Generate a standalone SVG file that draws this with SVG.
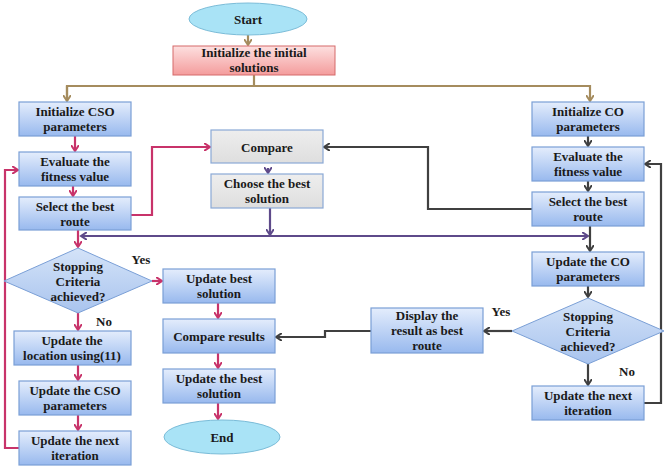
<svg xmlns="http://www.w3.org/2000/svg" width="669" height="470" viewBox="0 0 669 470">
<style>
text{font-family:"Liberation Serif","Times New Roman",serif;font-weight:bold;font-size:13px;fill:#1a1a1a;text-anchor:middle}
.b{fill:url(#gb);stroke:#7a9fd6;stroke-width:1.2}
.g{fill:url(#gg);stroke:#8aa9d6;stroke-width:1.2}
.c{fill:none;stroke-width:2.2}
.pk{stroke:#c8336a}.br{stroke:#a58c5e}.pu{stroke:#5e4a8a}.dk{stroke:#404040}
</style>
<defs>
<linearGradient id="gb" x1="0" y1="0" x2="0" y2="1"><stop offset="0" stop-color="#e4edfc"/><stop offset="1" stop-color="#98b9ee"/></linearGradient>
<linearGradient id="gg" x1="0" y1="0" x2="0" y2="1"><stop offset="0" stop-color="#eeeeee"/><stop offset="1" stop-color="#dedede"/></linearGradient>
<linearGradient id="gr" x1="0" y1="0" x2="0" y2="1"><stop offset="0" stop-color="#fde0e0"/><stop offset="1" stop-color="#f49c9c"/></linearGradient>
<linearGradient id="gd" x1="0" y1="0" x2="0" y2="1"><stop offset="0" stop-color="#d4e3f8"/><stop offset="1" stop-color="#a9c4ee"/></linearGradient>
<marker id="apk" markerWidth="8" markerHeight="8" refX="6" refY="4" orient="auto" markerUnits="userSpaceOnUse"><path d="M0,0 L6,4 L0,8" fill="none" stroke="#c8336a" stroke-width="2"/></marker>
<marker id="abr" markerWidth="8" markerHeight="8" refX="6" refY="4" orient="auto" markerUnits="userSpaceOnUse"><path d="M0,0 L6,4 L0,8" fill="none" stroke="#a58c5e" stroke-width="2"/></marker>
<marker id="apu" markerWidth="8" markerHeight="8" refX="6" refY="4" orient="auto" markerUnits="userSpaceOnUse"><path d="M0,0 L6,4 L0,8" fill="none" stroke="#5e4a8a" stroke-width="2"/></marker>
<marker id="adk" markerWidth="8" markerHeight="8" refX="6" refY="4" orient="auto" markerUnits="userSpaceOnUse"><path d="M0,0 L6,4 L0,8" fill="none" stroke="#404040" stroke-width="2"/></marker>
</defs>
<g id="connectors">
<path class="c br" d="M248,35 V45" marker-end="url(#abr)"/>
<path class="c br" d="M254,75 V86"/>
<path class="c br" d="M67,101 V86 H590 V101" marker-end="url(#abr)"/>
<path class="c br" d="M67,86 V101" marker-end="url(#abr)"/>
<path class="c pk" d="M75,136 V151" marker-end="url(#apk)"/>
<path class="c pk" d="M73,186 V196" marker-end="url(#apk)"/>
<path class="c pk" d="M131,215 H152 V147 H210" marker-end="url(#apk)"/>
<path class="c pk" d="M78,230 V247" marker-end="url(#apk)"/>
<path class="c pk" d="M152,281 H162" marker-end="url(#apk)"/>
<path class="c pk" d="M78,313 V330" marker-end="url(#apk)"/>
<path class="c pk" d="M78,365 V380" marker-end="url(#apk)"/>
<path class="c pk" d="M78,415 V430" marker-end="url(#apk)"/>
<path class="c pk" d="M19,448 H5 V170 H18" marker-end="url(#apk)"/>
<path class="c pk" d="M218,303 V318" marker-end="url(#apk)"/>
<path class="c pk" d="M218,353 V368" marker-end="url(#apk)"/>
<path class="c pk" d="M218,403 V419" marker-end="url(#apk)"/>
<path class="c pu" d="M268,168 V173" marker-end="url(#apu)"/>
<path class="c pu" d="M270,208 V235" marker-end="url(#apu)"/>
<path class="c pu" d="M270,236 H81" marker-end="url(#apu)"/>
<path class="c pu" d="M270,236 H588" marker-end="url(#apu)"/>
<path class="c dk" d="M588,136 V146" marker-end="url(#adk)"/>
<path class="c dk" d="M588,181 V191" marker-end="url(#adk)"/>
<path class="c dk" d="M532,209 H428 V147 H324" marker-end="url(#adk)"/>
<path class="c dk" d="M590,226 V251" marker-end="url(#adk)"/>
<path class="c dk" d="M588,286 V297" marker-end="url(#adk)"/>
<path class="c dk" d="M588,364 V385" marker-end="url(#adk)"/>
<path class="c dk" d="M644,403 H661 V164 H645" marker-end="url(#adk)"/>
<path class="c dk" d="M512,331 H484" marker-end="url(#adk)"/>
<path class="c dk" d="M371,331 H325 V337 H276" marker-end="url(#adk)"/>
</g>
<g id="start"><ellipse cx="248" cy="19" rx="59" ry="16" fill="#a9e3f6" stroke="#7bbcd8"/><text x="248" y="24">Start</text></g>
<g id="init"><rect x="173" y="46" width="162" height="29" fill="url(#gr)" stroke="#d56a6a"/><text x="254" y="57">Initialize the initial</text><text x="254" y="72">solutions</text></g>
<g id="cso-init"><rect class="b" x="19" y="102" width="112" height="34"/><text x="75" y="116">Initialize CSO</text><text x="75" y="131">parameters</text></g>
<g id="cso-eval"><rect class="b" x="19" y="152" width="112" height="34"/><text x="75" y="166">Evaluate the</text><text x="75" y="181">fitness value</text></g>
<g id="cso-select"><rect class="b" x="19" y="197" width="112" height="33"/><text x="75" y="211">Select the best</text><text x="75" y="226">route</text></g>
<g id="compare"><rect class="g" x="211" y="130" width="112" height="33"/><text x="267" y="152">Compare</text></g>
<g id="choose"><rect class="g" x="211" y="174" width="112" height="34"/><text x="267" y="188">Choose the best</text><text x="267" y="203">solution</text></g>
<g id="cso-stop"><polygon points="4,281 78,248 152,281 78,313" fill="url(#gd)" stroke="#7a9fd6"/><text x="78" y="271">Stopping</text><text x="78" y="286">Criteria</text><text x="78" y="301">achieved?</text><text x="141" y="264">Yes</text><text x="104" y="326">No</text></g>
<g id="upd-best"><rect class="b" x="163" y="269" width="112" height="34"/><text x="219" y="283">Update best</text><text x="219" y="298">solution</text></g>
<g id="upd-loc"><rect class="b" x="14" y="331" width="117" height="34"/><text x="72" y="345">Update the</text><text x="72" y="360">location using(11)</text></g>
<g id="upd-cso"><rect class="b" x="19" y="381" width="112" height="34"/><text x="75" y="395">Update the CSO</text><text x="75" y="410">parameters</text></g>
<g id="cso-next"><rect class="b" x="19" y="431" width="112" height="34"/><text x="75" y="445">Update the next</text><text x="75" y="460">iteration</text></g>
<g id="cmp-res"><rect class="b" x="163" y="319" width="112" height="34"/><text x="219" y="341">Compare results</text></g>
<g id="upd-best2"><rect class="b" x="163" y="369" width="112" height="34"/><text x="219" y="383">Update the best</text><text x="219" y="398">solution</text></g>
<g id="end"><ellipse cx="222" cy="437" rx="58" ry="17" fill="#a9e3f6" stroke="#7bbcd8"/><text x="222" y="442">End</text></g>
<g id="co-init"><rect class="b" x="532" y="102" width="112" height="34"/><text x="588" y="116">Initialize CO</text><text x="588" y="131">parameters</text></g>
<g id="co-eval"><rect class="b" x="532" y="147" width="112" height="34"/><text x="588" y="161">Evaluate the</text><text x="588" y="176">fitness value</text></g>
<g id="co-select"><rect class="b" x="532" y="192" width="112" height="34"/><text x="588" y="206">Select the best</text><text x="588" y="221">route</text></g>
<g id="co-upd"><rect class="b" x="532" y="252" width="112" height="34"/><text x="588" y="266">Update the CO</text><text x="588" y="281">parameters</text></g>
<g id="co-stop"><polygon points="512,331 588,298 664,331 588,364" fill="url(#gd)" stroke="#7a9fd6"/><text x="588" y="321">Stopping</text><text x="588" y="336">Criteria</text><text x="588" y="351">achieved?</text><text x="501" y="316">Yes</text><text x="627" y="376">No</text></g>
<g id="display"><rect class="b" x="371" y="308" width="112" height="45"/><text x="427" y="320">Display the</text><text x="427" y="335">result as best</text><text x="427" y="350">route</text></g>
<g id="co-next"><rect class="b" x="532" y="386" width="112" height="34"/><text x="588" y="400">Update the next</text><text x="588" y="415">iteration</text></g>
</svg>
